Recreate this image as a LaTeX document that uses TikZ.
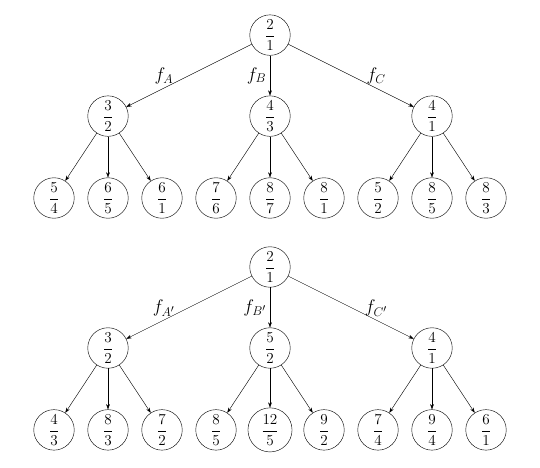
\documentclass[tikz,border=0pt]{standalone}
\usepackage{amsmath}
\usepackage{amssymb}
\usepackage{tikz}
\usetikzlibrary{arrows.meta}

\begin{document}
\begin{tikzpicture}[
  fracnode/.style={draw, circle, minimum size=1.35cm, inner sep=1pt, font=\Large},
  arr/.style={-{Stealth[length=5pt, width=3.5pt]}},
  flab/.style={font=\LARGE}]
\useasboundingbox (0,0) rectangle (18,-15.567);

% first tree
\node[fracnode] (t) at (9,-1.17) {$\dfrac{2}{1}$};
\node[fracnode] (tA) at (3.6,-3.87) {$\dfrac{3}{2}$};
\node[fracnode] (tB) at (9,-3.87) {$\dfrac{4}{3}$};
\node[fracnode] (tC) at (14.4,-3.87) {$\dfrac{4}{1}$};
\node[fracnode] (tA1) at (1.8,-6.6) {$\dfrac{5}{4}$};
\node[fracnode] (tA2) at (3.6,-6.6) {$\dfrac{6}{5}$};
\node[fracnode] (tA3) at (5.4,-6.6) {$\dfrac{6}{1}$};
\node[fracnode] (tB1) at (7.2,-6.6) {$\dfrac{7}{6}$};
\node[fracnode] (tB2) at (9,-6.6) {$\dfrac{8}{7}$};
\node[fracnode] (tB3) at (10.8,-6.6) {$\dfrac{8}{1}$};
\node[fracnode] (tC1) at (12.6,-6.6) {$\dfrac{5}{2}$};
\node[fracnode] (tC2) at (14.4,-6.6) {$\dfrac{8}{5}$};
\node[fracnode] (tC3) at (16.2,-6.6) {$\dfrac{8}{3}$};
\draw[arr] (t) -- node[flab, pos=0.7, above] {$f_A$} (tA);
\draw[arr] (t) -- node[flab, pos=0.5, left] {$f_B$} (tB);
\draw[arr] (t) -- node[flab, pos=0.7, above] {$f_C$} (tC);
\foreach \p in {A,B,C}
  \foreach \i in {1,2,3}
    \draw[arr] (t\p) -- (t\p\i);

% second tree
\node[fracnode] (s) at (9,-8.9) {$\dfrac{2}{1}$};
\node[fracnode] (sA) at (3.6,-11.6) {$\dfrac{3}{2}$};
\node[fracnode] (sB) at (9,-11.6) {$\dfrac{5}{2}$};
\node[fracnode] (sC) at (14.4,-11.6) {$\dfrac{4}{1}$};
\node[fracnode] (sA1) at (1.8,-14.33) {$\dfrac{4}{3}$};
\node[fracnode] (sA2) at (3.6,-14.33) {$\dfrac{8}{3}$};
\node[fracnode] (sA3) at (5.4,-14.33) {$\dfrac{7}{2}$};
\node[fracnode] (sB1) at (7.2,-14.33) {$\dfrac{8}{5}$};
\node[fracnode, minimum size=1.47cm] (sB2) at (9,-14.33) {$\dfrac{12}{5}$};
\node[fracnode] (sB3) at (10.8,-14.33) {$\dfrac{9}{2}$};
\node[fracnode] (sC1) at (12.6,-14.33) {$\dfrac{7}{4}$};
\node[fracnode] (sC2) at (14.4,-14.33) {$\dfrac{9}{4}$};
\node[fracnode] (sC3) at (16.2,-14.33) {$\dfrac{6}{1}$};
\draw[arr] (s) -- node[flab, pos=0.7, above] {$f_{A'}$} (sA);
\draw[arr] (s) -- node[flab, pos=0.5, left] {$f_{B'}$} (sB);
\draw[arr] (s) -- node[flab, pos=0.7, above] {$f_{C'}$} (sC);
\foreach \p in {A,B,C}
  \foreach \i in {1,2,3}
    \draw[arr] (s\p) -- (s\p\i);
\end{tikzpicture}
\end{document}
